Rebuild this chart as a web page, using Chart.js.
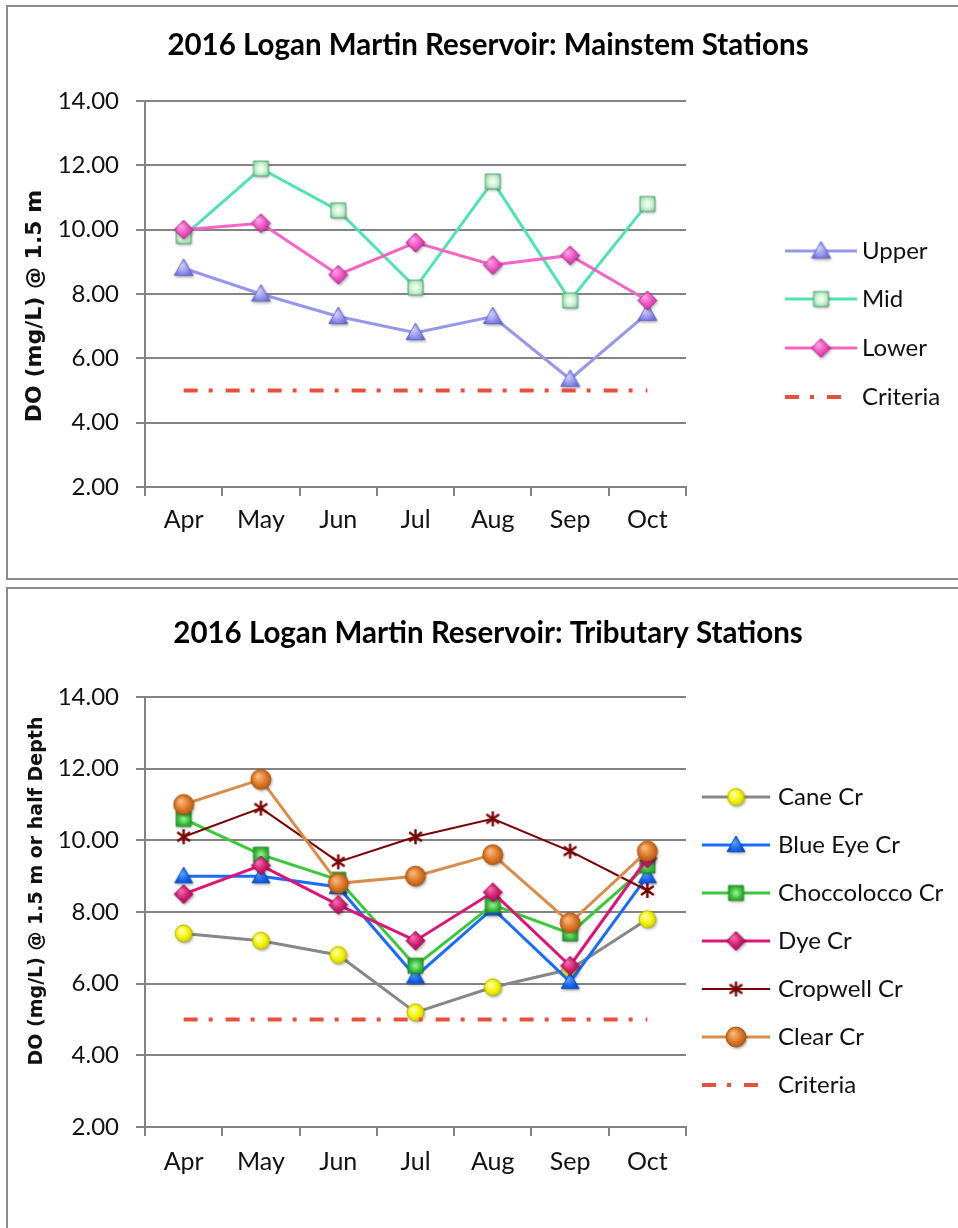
<!DOCTYPE html>
<html>
<head>
<meta charset="utf-8">
<script src="https://cdn.jsdelivr.net/npm/chart.js@4.4.1/dist/chart.umd.min.js"></script>
<style>
  html, body { margin: 0; padding: 0; background: #fff; width: 958px; height: 1228px; overflow: hidden; }
  .panel { position: absolute; left: 6px; width: 1000px; border: 2px solid #8a8a8a; box-sizing: border-box; }
  #panelMain { top: 5px; height: 575px; }
  #panelTrib { top: 587px; height: 700px; }
  canvas { position: absolute; left: 0; }
  #mainChart { top: 0; }
  #tribChart { top: 588px; }
</style>
</head>
<body>
<div class="panel" id="panelMain"></div>
<div class="panel" id="panelTrib"></div>
<canvas id="mainChart" width="976" height="578"></canvas>
<canvas id="tribChart" width="976" height="640"></canvas>
<script>
// Sampling months
const months = ['Apr', 'May', 'Jun', 'Jul', 'Aug', 'Sep', 'Oct'];

// Dissolved oxygen (mg/L) at mainstem stations
const upper = [8.8, 8.0, 7.3, 6.8, 7.3, 5.35, 7.4];
const mid   = [9.8, 11.9, 10.6, 8.2, 11.5, 7.8, 10.8];
const lower = [10.0, 10.2, 8.6, 9.6, 8.9, 9.2, 7.8];

// Dissolved oxygen (mg/L) at tributary stations
const caneCr        = [7.4, 7.2, 6.8, 5.2, 5.9, 6.4, 7.8];
const blueEyeCr     = [9.0, 9.0, 8.7, 6.2, 8.1, 6.05, 9.0];
const choccoloccoCr = [10.6, 9.6, 8.9, 6.5, 8.2, 7.4, 9.3];
const dyeCr         = [8.5, 9.3, 8.2, 7.2, 8.55, 6.5, 9.5];
const cropwellCr    = [10.1, 10.9, 9.4, 10.1, 10.6, 9.7, 8.6];
const clearCr       = [11.0, 11.7, 8.8, 9.0, 9.6, 7.7, 9.7];

// State DO criterion (mg/L)
const criteria = [5, 5, 5, 5, 5, 5, 5];

// Value axis range
const yMin = 2, yMax = 14, yStep = 2;

const TEXT_FONT = 'Lato, "Open Sans", sans-serif';
const AXIS_TITLE_FONT = '"DejaVu Sans", Verdana, sans-serif';
const GRID = '#838383';
const CRIT_DASH = [14, 11, 4, 13];

// ---- shaded marker images ----
function marker(size, draw) {
  const pad = 5;
  const s = Math.round(size + pad * 2);
  const c = document.createElement('canvas');
  c.width = s; c.height = s;
  const g = c.getContext('2d');
  g.translate(s / 2, s / 2);
  g.shadowColor = 'rgba(0,0,0,0.35)';
  g.shadowBlur = 3;
  g.shadowOffsetX = 1.2;
  g.shadowOffsetY = 1.8;
  draw(g, size / 2);
  return c;
}
function shadeFill(g, r, light, base, dark, edge) {
  const grad = g.createRadialGradient(-r * 0.3, -r * 0.35, r * 0.1, 0, 0, r * 1.15);
  grad.addColorStop(0, light);
  grad.addColorStop(0.55, base);
  grad.addColorStop(1, dark);
  g.fillStyle = grad;
  g.fill();
  g.shadowColor = 'transparent';
  g.lineWidth = 1;
  g.strokeStyle = edge;
  g.stroke();
}
function triangleMarker(size, light, base, dark, edge) {
  return marker(size, (g, r) => {
    g.beginPath();
    g.moveTo(0, -r * 1.0);
    g.lineTo(r * 1.0, r * 0.75);
    g.lineTo(-r * 1.0, r * 0.75);
    g.closePath();
    shadeFill(g, r, light, base, dark, edge);
  });
}
function squareMarker(size, light, base, dark, edge) {
  return marker(size, (g, r) => {
    g.beginPath();
    g.rect(-r, -r, 2 * r, 2 * r);
    const grad = g.createRadialGradient(0, 0, r * 0.1, 0, 0, r * 1.4);
    grad.addColorStop(0, light);
    grad.addColorStop(0.5, base);
    grad.addColorStop(1, dark);
    g.fillStyle = grad;
    g.fill();
    g.shadowColor = 'transparent';
    g.lineWidth = 1;
    g.strokeStyle = edge;
    g.stroke();
  });
}
function diamondMarker(size, light, base, dark, edge) {
  return marker(size, (g, r) => {
    g.beginPath();
    g.moveTo(0, -r); g.lineTo(r, 0); g.lineTo(0, r); g.lineTo(-r, 0);
    g.closePath();
    shadeFill(g, r, light, base, dark, edge);
  });
}
function circleMarker(size, light, base, dark, edge) {
  return marker(size, (g, r) => {
    g.beginPath();
    g.arc(0, 0, r, 0, Math.PI * 2);
    shadeFill(g, r, light, base, dark, edge);
  });
}
function starMarker(size, color) {
  return marker(size, (g, r) => {
    g.shadowColor = 'transparent';
    g.strokeStyle = color;
    g.lineWidth = 2.4;
    g.beginPath();
    g.moveTo(0, -r); g.lineTo(0, r);
    g.moveTo(-r * 0.85, -r * 0.6); g.lineTo(r * 0.85, r * 0.6);
    g.moveTo(-r * 0.85, r * 0.6); g.lineTo(r * 0.85, -r * 0.6);
    g.stroke();
  });
}

// ---- side key (line sample + marker + name) ----
function sideKey(k) {
  return {
    id: 'sideKey',
    afterDraw(chart) {
      const ctx = chart.ctx;
      ctx.save();
      chart.data.datasets.forEach((ds, i) => {
        const y = k.rows[i];
        const x1 = ds.borderDash ? k.x0 + k.dashLen : k.x1;
        ctx.strokeStyle = ds.borderColor;
        ctx.lineWidth = ds.borderWidth;
        ctx.lineCap = 'butt';
        ctx.setLineDash(ds.borderDash || []);
        ctx.beginPath();
        ctx.moveTo(k.x0, y);
        ctx.lineTo(x1, y);
        ctx.stroke();
        ctx.setLineDash([]);
        const img = ds.pointStyle;
        if (img && img.width && ds.pointRadius > 0) {
          ctx.drawImage(img, (k.x0 + k.x1) / 2 - img.width / 2, y - img.height / 2);
        }
        ctx.fillStyle = '#111';
        ctx.font = k.font;
        ctx.textAlign = 'left';
        ctx.textBaseline = 'middle';
        ctx.fillText(ds.label, k.textX, y);
      });
      ctx.restore();
    }
  };
}

// ---- rotated value-axis title ----
function sideTitle(t) {
  return {
    id: 'sideTitle',
    afterDraw(chart) {
      const ctx = chart.ctx;
      ctx.save();
      ctx.translate(t.x, t.y);
      ctx.rotate(-Math.PI / 2);
      ctx.font = t.font;
      ctx.fillStyle = '#111';
      ctx.textAlign = 'center';
      ctx.textBaseline = 'middle';
      ctx.fillText(t.text, 0, 0);
      ctx.restore();
    }
  };
}

function series(label, data, color, width, img) {
  return {
    label, data,
    borderColor: color, backgroundColor: color, borderWidth: width,
    pointStyle: img, pointRadius: 9, pointHoverRadius: 9,
    tension: 0, fill: false
  };
}
function criteriaSeries(data) {
  return {
    label: 'Criteria', data,
    borderColor: '#e8503c', backgroundColor: '#e8503c', borderWidth: 4,
    borderDash: CRIT_DASH, pointRadius: 0, pointHoverRadius: 0,
    tension: 0, fill: false
  };
}

function buildChart(canvasId, title, datasets, xAxisHeight, titlePad, labelPad, key, axisTitle) {
  // later series are painted over earlier ones
  datasets.forEach((ds, i) => { ds.order = datasets.length - i; });
  return new Chart(document.getElementById(canvasId), {
    type: 'line',
    data: { labels: months, datasets },
    options: {
      responsive: false,
      animation: false,
      events: [],
      layout: { padding: 0 },
      plugins: {
        legend: { display: false },
        tooltip: { enabled: false },
        title: {
          display: true, text: title, color: '#000',
          font: { family: TEXT_FONT, size: 29.5, weight: 'bold', lineHeight: 1.2 },
          padding: titlePad
        }
      },
      scales: {
        x: {
          type: 'category',
          offset: true,
          grid: { display: true, offset: true, drawOnChartArea: false, drawTicks: true, tickLength: 9, color: GRID, lineWidth: 2 },
          border: { display: true, color: GRID, width: 2 },
          ticks: { color: '#111', font: { family: TEXT_FONT, size: 25 }, padding: labelPad, maxRotation: 0 },
          afterFit(s) { s.height = xAxisHeight; }
        },
        y: {
          position: 'left',
          min: yMin, max: yMax,
          ticks: {
            stepSize: yStep, color: '#111', padding: 17,
            font: { family: TEXT_FONT, size: 24 },
            callback: v => Number(v).toFixed(2)
          },
          grid: { color: GRID, lineWidth: 2, tickLength: 9, drawTicks: true },
          border: { display: true, color: GRID, width: 2 },
          afterFit(s) { s.width = 145; }
        },
        keySpace: {
          position: 'right', display: true,
          grid: { display: false, drawTicks: false },
          border: { display: false },
          ticks: { display: false },
          afterFit(s) { s.width = 290; }
        }
      }
    },
    plugins: [sideKey(key), sideTitle(axisTitle)]
  });
}

// ---- Mainstem stations ----
buildChart(
  'mainChart',
  '2016 Logan Martin Reservoir: Mainstem Stations',
  [
    series('Upper', upper, '#9696ec', 3, triangleMarker(19, '#d0d0fa', '#9090ea', '#5c5cc4', '#6868c8')),
    series('Mid', mid, '#4fe3b2', 3, squareMarker(15, '#f6fff6', '#c4efca', '#6fc08e', '#5aa87a')),
    series('Lower', lower, '#f564c6', 3, diamondMarker(19, '#ff9fe2', '#ec4cbe', '#b62a90', '#b0308e')),
    criteriaSeries(criteria)
  ],
  91,
  { top: 27.3, bottom: 38.3 },
  9,
  { rows: [251, 299, 348, 397], x0: 785, x1: 857, dashLen: 57, textX: 862, font: '24px ' + TEXT_FONT },
  { text: 'DO (mg/L) @ 1.5 m', x: 35, y: 306, font: 'bold 22px ' + AXIS_TITLE_FONT }
);

// ---- Tributary stations ----
buildChart(
  'tribChart',
  '2016 Logan Martin Reservoir: Tributary Stations',
  [
    series('Cane Cr', caneCr, '#878787', 3, circleMarker(17, '#ffffb8', '#f4f400', '#c4c400', '#b8b800')),
    series('Blue Eye Cr', blueEyeCr, '#1a6cff', 3, triangleMarker(18, '#5aa4ff', '#1464f0', '#0a44b0', '#0c4cc0')),
    series('Choccolocco Cr', choccoloccoCr, '#3cc83c', 3, squareMarker(15, '#8ef08e', '#3cbc3c', '#1e861e', '#23902a')),
    series('Dye Cr', dyeCr, '#dc1478', 3, diamondMarker(19, '#f06aae', '#d0186e', '#960e4c', '#9a1050')),
    series('Cropwell Cr', cropwellCr, '#7a0000', 2, starMarker(15, '#7a0000')),
    series('Clear Cr', clearCr, '#d98c4a', 3, circleMarker(20, '#f8b878', '#de7828', '#a45210', '#a85814')),
    criteriaSeries(criteria)
  ],
  101,
  { top: 27.3, bottom: 46.3 },
  11,
  { rows: [209, 257, 305, 353, 401, 449, 497], x0: 702, x1: 770, dashLen: 57, textX: 778, font: '24px ' + TEXT_FONT },
  { text: 'DO (mg/L) @ 1.5 m or half Depth', x: 37, y: 303, font: 'bold 19px ' + AXIS_TITLE_FONT }
);
</script>
</body>
</html>
